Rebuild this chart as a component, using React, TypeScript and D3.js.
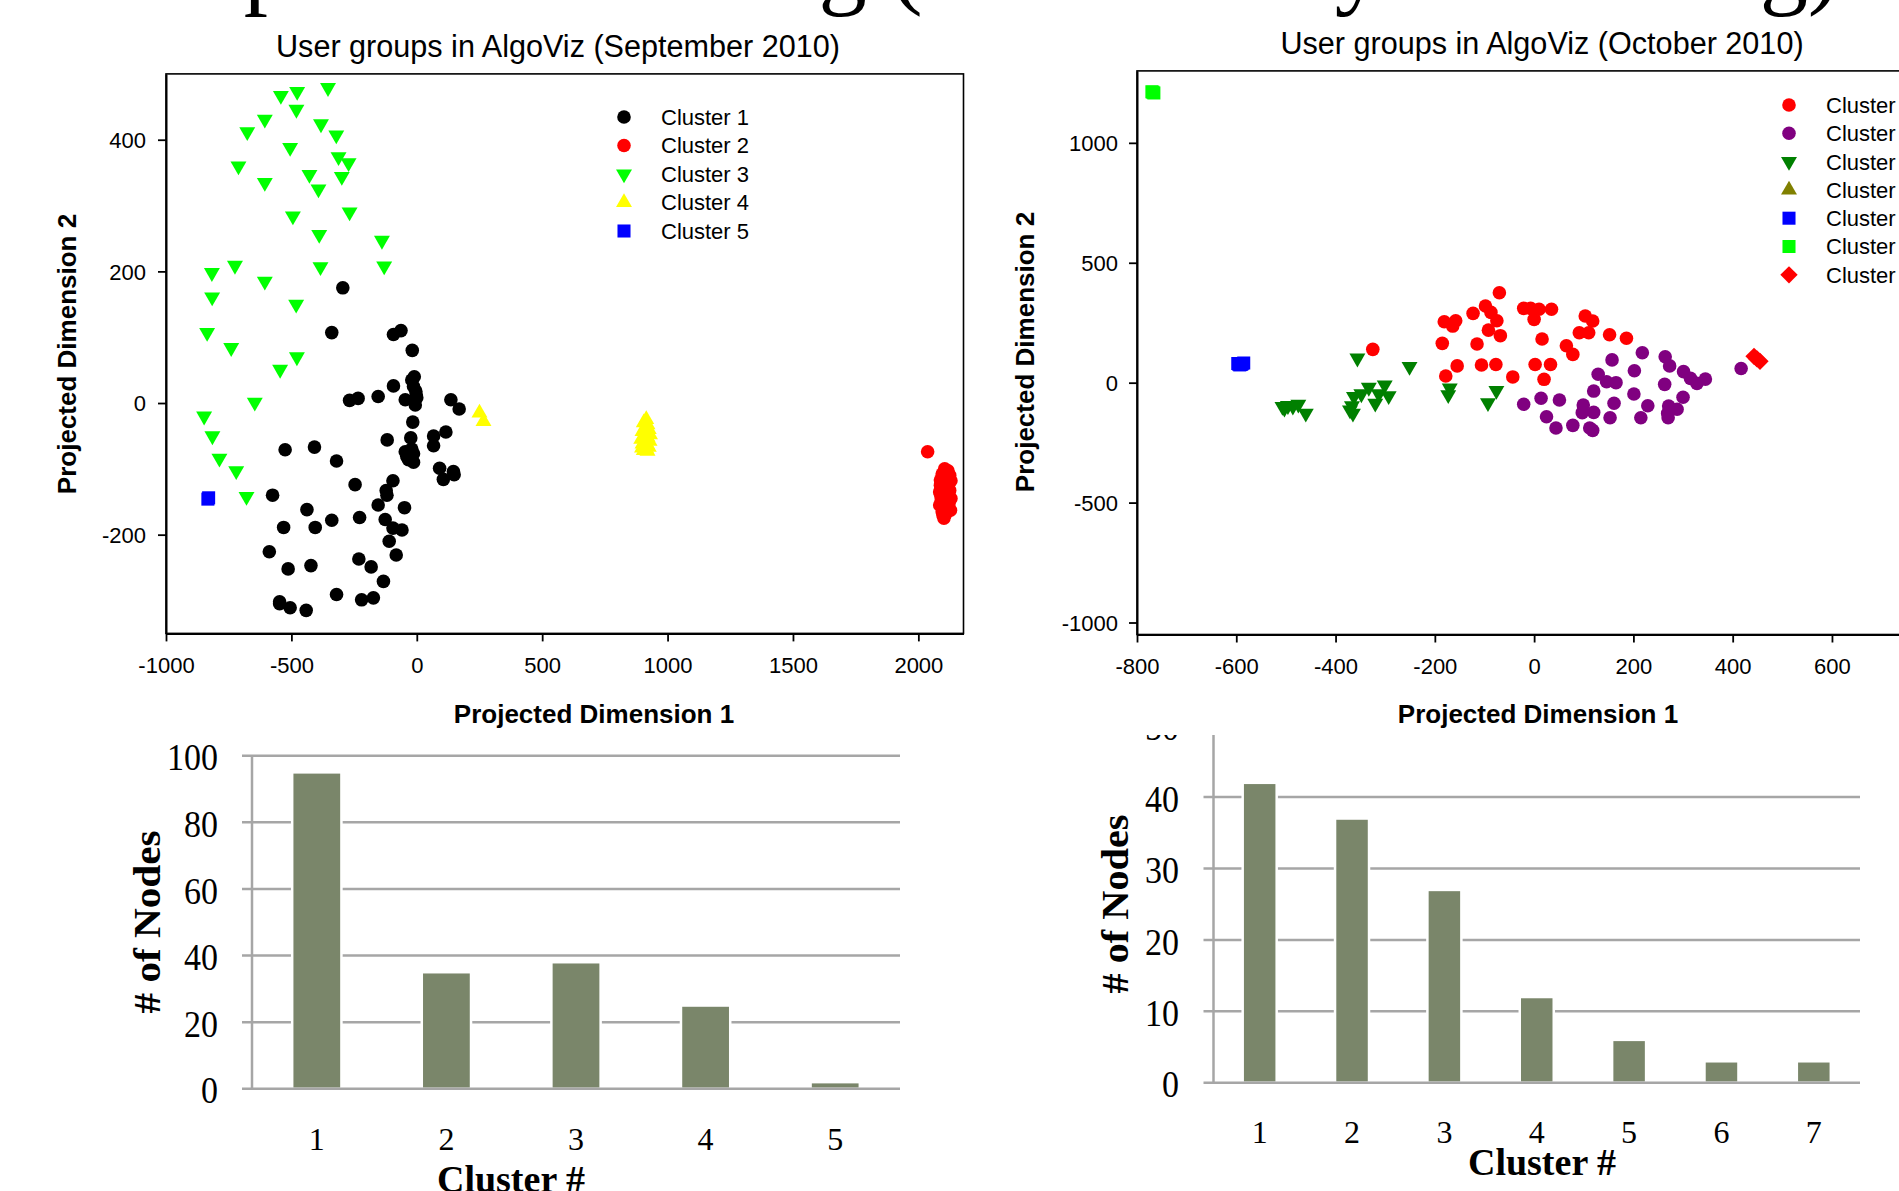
import React, { useEffect, useRef } from 'react';
import * as d3 from 'd3';

// ---- text ----
const headline = 'Temporal Clustering (Community Clustering)';
const sepTitle = 'User groups in AlgoViz (September 2010)';
const octTitle = 'User groups in AlgoViz (October 2010)';
const xTitle = 'Projected Dimension 1';
const yTitle = 'Projected Dimension 2';
const barXTitle = 'Cluster #';
const barYTitle = '# of Nodes';

// ---- scatter ticks ----
const sepXTicks = [-1000, -500, 0, 500, 1000, 1500, 2000];
const sepYTicks = [-200, 0, 200, 400];
const octXTicks = [-800, -600, -400, -200, 0, 200, 400, 600, 800];
const octYTicks = [-1000, -500, 0, 500, 1000];

// ---- September 2010 clusters (x, y) ----
const sepCluster1 = [
  [-339, 107], [-93, 104], [-63, 110], [-18, 80], [-295, 175], [-93, 26],
  [-20, 35], [-13, 25], [-4, 18], [0, 8], [-6, -3], [-46, 5], [-10, 40], [-2, 12],
  [-268, 4], [-234, 7], [-154, 10], [136, 5], [169, -9], [-16, -29], [-118, -56],
  [-24, -53], [67, -50], [67, -65], [116, -44],
  [-46, -74], [-40, -81], [-13, -77], [-13, -90], [-33, -86], [-20, -70],
  [-525, -71], [-408, -67], [-320, -88],
  [91, -99], [106, -116], [146, -104], [149, -109],
  [-246, -124], [-95, -118], [-122, -133], [-119, -140], [-575, -140], [-154, -155],
  [-49, -159], [-438, -162], [-339, -178], [-405, -189], [-531, -189], [-228, -174],
  [-126, -177], [-95, -190], [-59, -193], [-110, -210], [-588, -226], [-82, -231],
  [-231, -237], [-182, -249], [-422, -247], [-513, -252], [-133, -271], [-320, -291],
  [-547, -302], [-547, -305], [-505, -311], [-441, -315], [-220, -299], [-173, -296],
];
const sepCluster2 = [
  [2037, -74],
  [2105, -100], [2118, -103], [2095, -108], [2125, -110], [2110, -112], [2088, -117],
  [2102, -120], [2120, -122], [2130, -118], [2095, -127], [2112, -130], [2125, -133],
  [2085, -135], [2100, -138], [2118, -141], [2130, -145], [2092, -147], [2108, -150],
  [2122, -153], [2085, -155], [2100, -158], [2115, -160], [2128, -163], [2095, -165],
  [2110, -168], [2102, -175], [2090, -142], [2120, -128], [2105, -145], [2098, -170],
  [2115, -148], [2088, -125], [2112, -115], [2100, -162],
];
const sepCluster3 = [
  [-354, 479], [-477, 473], [-542, 467], [-480, 446], [-606, 431], [-676, 412],
  [-382, 424], [-321, 407], [-505, 388], [-312, 374], [-272, 365], [-711, 360],
  [-606, 335], [-428, 347], [-299, 344], [-392, 325], [-268, 290], [-494, 284],
  [-389, 256], [-139, 247], [-817, 198], [-725, 209], [-384, 207], [-130, 208],
  [-606, 185], [-816, 161], [-481, 150], [-836, 107], [-740, 84], [-478, 70],
  [-545, 51], [-646, 1], [-848, -20], [-815, -50], [-787, -84], [-720, -103], [-679, -142],
];
const sepCluster4 = [
  [250, -15], [266, -28],
  [915, -25], [905, -30], [920, -33], [910, -38], [925, -40], [900, -43], [915, -45],
  [930, -48], [905, -50], [920, -52], [895, -55], [912, -57], [928, -58], [900, -62],
  [918, -63], [908, -66], [925, -67], [898, -68], [915, -70], [905, -72], [920, -73],
];
const sepCluster5 = [[-833, -146], [-830, -144]];

// ---- October 2010 clusters (x, y) ----
const octCluster1 = [
  [-70, 375], [-98, 320], [-87, 293], [-75, 258], [-92, 219], [-68, 196], [-123, 289],
  [-181, 254], [-158, 258], [-164, 236], [-185, 164], [-115, 161], [-325, 139],
  [-21, 310], [-7, 310], [10, 306], [0, 264], [35, 306], [16, 182], [103, 278],
  [118, 257], [91, 208], [110, 208], [152, 200], [186, 185], [65, 154], [78, 118],
  [-155, 70], [-106, 74], [-77, 76], [-178, 28], [-43, 24], [2, 76], [33, 76], [20, 14],
];
const octCluster2 = [
  [218, 125], [157, 95], [202, 50], [264, 108], [273, 70], [301, 46], [315, 18],
  [328, -3], [345, 15], [417, 59], [129, 35], [146, 4], [165, 0], [263, -7], [120, -35],
  [201, -47], [300, -61], [-21, -90], [14, -65], [51, -72], [99, -93], [161, -86],
  [229, -96], [271, -97], [288, -111], [25, -142], [97, -125], [120, -124], [153, -146],
  [215, -146], [270, -146], [44, -189], [78, -178], [112, -189], [118, -199], [269, -128],
];
const octCluster3 = [
  [-356, 102], [-251, 67], [-496, -96], [-507, -100], [-486, -98], [-475, -90],
  [-460, -128], [-503, -107], [-367, -97], [-371, -114], [-365, -128], [-333, -20],
  [-301, -10], [-348, -47], [-363, -58], [-320, -86], [-293, -55], [-313, -47],
  [-170, -23], [-173, -51], [-76, -33], [-93, -84],
];
const octCluster4: number[][] = []; // not visible in the figure
const octCluster5 = [[-597, 80], [-590, 76], [-585, 82], [-593, 74], [-588, 79], [-595, 77]];
const octCluster6 = [[-768, 1211], [-766, 1208], [-770, 1213]];
const octCluster7 = [[443, 110], [455, 89], [449, 99]];

const sepLabels = ['Cluster 1', 'Cluster 2', 'Cluster 3', 'Cluster 4', 'Cluster 5'];
const octLabels = ['Cluster 1', 'Cluster 2', 'Cluster 3', 'Cluster 4', 'Cluster 5', 'Cluster 6', 'Cluster 7'];

// ---- bar charts ----
const sepCategories = ['1', '2', '3', '4', '5'];
const sepCounts = [95, 35, 38, 25, 2];
const sepCountTicks = [0, 20, 40, 60, 80, 100];
const octCategories = ['1', '2', '3', '4', '5', '6', '7'];
const octCounts = [42, 37, 27, 12, 6, 3, 3];
const octCountTicks = [0, 10, 20, 30, 40, 50];

const SANS = '"Liberation Sans", Arial, sans-serif';
const SERIF = '"Liberation Serif", "Times New Roman", serif';
const BAR = '#7a866a';
const GRID = '#a6a6a6';

type Shape = 'circle' | 'down' | 'up' | 'square' | 'diamond';

function markerPath(shape: Shape): string {
  const type = shape === 'circle' ? d3.symbolCircle
    : shape === 'square' || shape === 'diamond' ? d3.symbolSquare
    : d3.symbolTriangle;
  const size = { circle: 145, down: 110, up: 110, square: 170, diamond: 150 }[shape];
  return d3.symbol().type(type).size(size)() as string;
}
function markerRot(shape: Shape) {
  return shape === 'down' ? ' rotate(180)' : shape === 'diamond' ? ' rotate(45)' : '';
}

function App() {
  const svgRef = useRef<SVGSVGElement>(null);

  useEffect(() => {
    const svg = d3.select(svgRef.current);
    svg.selectAll('*').remove();

    // cut-off slide headline
    svg.append('text')
      .attr('x', 74).attr('y', -4)
      .attr('textLength', 1766)
      .style('font-family', SERIF).style('font-size', '96.5px')
      .text(headline);

    function scatter(opts: any) {
      const x = d3.scaleLinear().domain(opts.xDomain).range(opts.xRange);
      const y = d3.scaleLinear().domain(opts.yDomain).range(opts.yRange);
      const g = svg.append('g');
      const [x0, x1] = opts.xRange;
      const [yb, yt] = opts.yRange;

      g.append('text')
        .attr('x', opts.titleX).attr('y', opts.titleY)
        .attr('text-anchor', 'middle')
        .style('font-family', SANS).style('font-size', '30.6px')
        .text(opts.title);

      g.append('rect')
        .attr('x', x0).attr('y', yt)
        .attr('width', x1 - x0).attr('height', yb - yt)
        .attr('fill', 'none').attr('stroke', '#000').attr('stroke-width', 1.6);

      const fmt = (d: any) => String(d);
      const ax = g.append('g')
        .attr('transform', `translate(0,${yb})`)
        .call(d3.axisBottom(x).tickValues(opts.xTicks).tickSize(8).tickSizeOuter(0).tickPadding(16).tickFormat(fmt));
      const ay = g.append('g')
        .attr('transform', `translate(${x0},0)`)
        .call(d3.axisLeft(y).tickValues(opts.yTicks).tickSize(8).tickSizeOuter(0).tickPadding(opts.yPad).tickFormat(fmt));
      [ax, ay].forEach(a => {
        a.attr('font-family', SANS).attr('font-size', 22);
        a.select('.domain').attr('stroke-width', 2);
        a.selectAll('line').attr('stroke-width', 1.8);
        a.selectAll('text').attr('fill', '#000');
      });
      ay.selectAll('text').attr('dy', '0.35em');

      g.append('text')
        .attr('x', opts.xTitleX).attr('y', 723)
        .attr('text-anchor', 'middle')
        .style('font-family', SANS).style('font-size', '26px').style('font-weight', 'bold')
        .text(xTitle);
      g.append('text')
        .attr('transform', `translate(${opts.yTitleX},${opts.yTitleY}) rotate(-90)`)
        .attr('text-anchor', 'middle')
        .style('font-family', SANS).style('font-size', '26px').style('font-weight', 'bold')
        .text(yTitle);

      opts.series.forEach((s: any) => {
        g.append('g').selectAll('path')
          .data(s.data)
          .enter().append('path')
          .attr('d', markerPath(s.shape))
          .attr('transform', (d: any) => `translate(${x(d[0])},${y(d[1])})${markerRot(s.shape)}`)
          .attr('fill', s.color);
      });

      // legend
      const lg = g.append('g');
      opts.series.forEach((s: any, i: number) => {
        const ly = opts.legendY + i * opts.legendStep;
        lg.append('path')
          .attr('d', markerPath(s.shape))
          .attr('transform', `translate(${opts.legendX},${ly})${markerRot(s.shape)}`)
          .attr('fill', s.color);
        lg.append('text')
          .attr('x', opts.legendX + 37).attr('y', ly)
          .attr('dy', '0.36em')
          .style('font-family', SANS).style('font-size', '22px')
          .text(opts.labels[i]);
      });
    }

    scatter({
      xDomain: [-1000, 2180], xRange: [166, 963.5],
      yDomain: [-350, 500], yRange: [633.4, 73.9],
      xTicks: sepXTicks, yTicks: sepYTicks, yPad: 12,
      title: sepTitle, titleX: 558, titleY: 57,
      xTitleX: 594, yTitleX: 76, yTitleY: 354,
      legendX: 624, legendY: 117, legendStep: 28.5,
      labels: sepLabels,
      series: [
        { data: sepCluster1, color: '#000000', shape: 'circle' },
        { data: sepCluster2, color: '#ff0000', shape: 'circle' },
        { data: sepCluster3, color: '#00ff00', shape: 'down' },
        { data: sepCluster4, color: '#ffff00', shape: 'up' },
        { data: sepCluster5, color: '#0000ff', shape: 'square' },
      ],
    });

    scatter({
      xDomain: [-800, 1000], xRange: [1137, 1137 + 1800 * 0.4964],
      yDomain: [-1050, 1300], yRange: [634.5, 70.9],
      xTicks: octXTicks, yTicks: octYTicks, yPad: 11,
      title: octTitle, titleX: 1542, titleY: 54,
      xTitleX: 1538, yTitleX: 1034, yTitleY: 352,
      legendX: 1789, legendY: 105, legendStep: 28.3,
      labels: octLabels,
      series: [
        { data: octCluster1, color: '#ff0000', shape: 'circle' },
        { data: octCluster2, color: '#800080', shape: 'circle' },
        { data: octCluster3, color: '#008000', shape: 'down' },
        { data: octCluster4, color: '#808000', shape: 'up' },
        { data: octCluster5, color: '#0000ff', shape: 'square' },
        { data: octCluster6, color: '#00ff00', shape: 'square' },
        { data: octCluster7, color: '#ff0000', shape: 'diamond' },
      ],
    });

    function bars(opts: any) {
      const x = d3.scaleBand().domain(opts.categories).range(opts.xRange)
        .paddingInner(opts.padIn).paddingOuter(opts.padIn / 2);
      const y = d3.scaleLinear().domain(opts.yDomain).range(opts.yRange);
      const g = svg.append('g');
      if (opts.clipTop) {
        svg.append('defs').append('clipPath').attr('id', opts.id)
          .append('rect').attr('x', 0).attr('y', opts.clipTop).attr('width', 1899).attr('height', 1191);
        g.attr('clip-path', `url(#${opts.id})`);
      }
      const [x0, x1] = opts.xRange;

      g.append('g').selectAll('line')
        .data(opts.ticks.filter((d: number) => d !== 0))
        .enter().append('line')
        .attr('x1', x0 - 10).attr('x2', x1)
        .attr('y1', (d: number) => y(d)).attr('y2', (d: number) => y(d))
        .attr('stroke', GRID).attr('stroke-width', 2.5);

      g.append('g').selectAll('rect')
        .data(opts.values)
        .enter().append('rect')
        .attr('x', (d: number, i: number) => x(opts.categories[i]) as number)
        .attr('width', x.bandwidth())
        .attr('y', (d: number) => y(d))
        .attr('height', (d: number) => y(0) - y(d))
        .attr('fill', BAR).attr('stroke', '#fff').attr('stroke-width', 2.5);

      // baseline and value axis drawn over the bars
      g.append('line')
        .attr('x1', x0 - 10).attr('x2', x1)
        .attr('y1', y(0)).attr('y2', y(0))
        .attr('stroke', GRID).attr('stroke-width', 2.5);
      g.append('line')
        .attr('x1', x0).attr('x2', x0)
        .attr('y1', opts.yRange[1]).attr('y2', opts.yRange[0])
        .attr('stroke', GRID).attr('stroke-width', 2.5);

      g.append('g').selectAll('text')
        .data(opts.ticks)
        .enter().append('text')
        .attr('x', opts.yLabelX).attr('y', (d: number) => y(d) + 1)
        .attr('dy', '0.36em')
        .attr('text-anchor', 'end')
        .attr('textLength', (d: number) => String(d).length * 17)
        .attr('lengthAdjust', 'spacingAndGlyphs')
        .style('font-family', SERIF).style('font-size', '38px')
        .text((d: number) => d);

      g.append('g').selectAll('text')
        .data(opts.categories)
        .enter().append('text')
        .attr('x', (d: string) => (x(d) as number) + x.bandwidth() / 2)
        .attr('y', opts.xLabelY)
        .attr('text-anchor', 'middle')
        .style('font-family', SERIF).style('font-size', '32px')
        .text((d: string) => d);

      g.append('text')
        .attr('x', opts.xTitleX).attr('y', opts.xTitleY)
        .attr('text-anchor', 'middle')
        .style('font-family', SERIF).style('font-size', '38px').style('font-weight', 'bold')
        .text(barXTitle);
      g.append('text')
        .attr('transform', `translate(${opts.yTitleX},${opts.yTitleY}) rotate(-90)`)
        .attr('text-anchor', 'middle')
        .attr('textLength', opts.yTitleLen)
        .attr('lengthAdjust', 'spacingAndGlyphs')
        .style('font-family', SERIF).style('font-size', '38px').style('font-weight', 'bold')
        .text(barYTitle);
    }

    bars({
      id: 'sep-bars',
      categories: sepCategories, values: sepCounts, ticks: sepCountTicks,
      xRange: [252, 900], padIn: 0.62,
      yDomain: [0, 100], yRange: [1088.8, 755.7],
      yLabelX: 218, xLabelY: 1150,
      xTitleX: 511, xTitleY: 1192,
      yTitleX: 160, yTitleY: 922, yTitleLen: 183,
    });

    bars({
      id: 'oct-bars', clipTop: 735,
      categories: octCategories, values: octCounts, ticks: octCountTicks,
      xRange: [1213.5, 1860], padIn: 0.632,
      yDomain: [0, 50], yRange: [1082.7, 725.7],
      yLabelX: 1179, xLabelY: 1143,
      xTitleX: 1542, xTitleY: 1175,
      yTitleX: 1128, yTitleY: 904, yTitleLen: 179,
    });
  }, []);

  return (
    <div style={{ position: 'absolute', left: 0, top: 0, width: 1899, height: 1191, overflow: 'hidden', background: '#fff' }}>
      <svg ref={svgRef} width={1899} height={1191} style={{ display: 'block' }} />
    </div>
  );
}

export default App;
